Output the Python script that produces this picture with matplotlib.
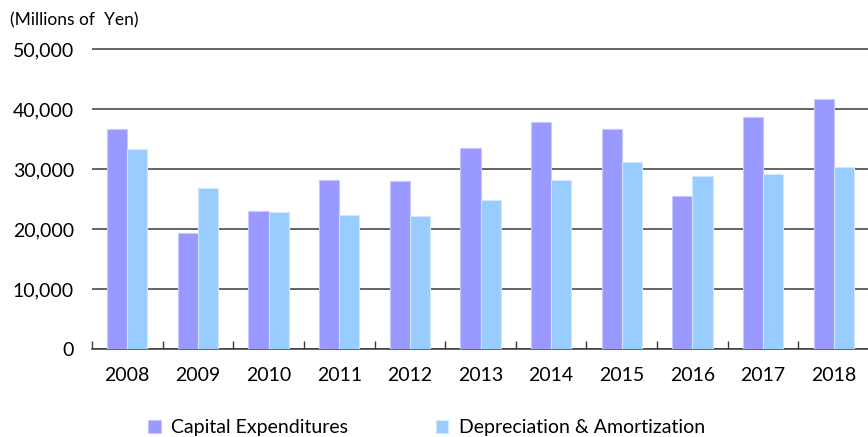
import numpy as np
import matplotlib.pyplot as plt

years = ['2008', '2009', '2010', '2011', '2012', '2013', '2014', '2015', '2016', '2017', '2018']
capex = [36600, 19300, 23000, 28200, 28000, 33500, 37800, 36600, 25500, 38600, 41600]
dep_amort = [33300, 26800, 22800, 22400, 22200, 24800, 28200, 31200, 28800, 29200, 30300]

plt.rcParams['font.family'] = ['Lato', 'DejaVu Sans']

W, H = 868, 437
fig = plt.figure(figsize=(W / 100, H / 100), dpi=100)

# axes placed in pixel terms: left edge 92, baseline 349, 60 px per 10,000
ytop = 51000
top_px = 349 - ytop / 10000 * 60
ax = fig.add_axes([92 / W, 1 - 349 / H, (869 - 92) / W, (349 - top_px) / H])

x = np.arange(len(years))
bw = 0.285
ax.bar(x - bw / 2, capex, bw, color='#9999FF', edgecolor='#C8C8FF', linewidth=0.8,
       label='Capital Expenditures', zorder=3)
ax.bar(x + bw / 2, dep_amort, bw, color='#99CCFF', edgecolor='#D0E8FF', linewidth=0.8,
       label='Depreciation & Amortization', zorder=3)

ax.set_xlim(-0.5, len(years) - 0.5)
ax.set_ylim(0, ytop)
ax.set_yticks(np.arange(0, 50001, 10000))
ax.set_yticklabels(['0'] + [f'{v:,}' for v in range(10000, 50001, 10000)])
ax.yaxis.grid(True, color='#3a3a3a', linewidth=1.1, zorder=1)
ax.tick_params(axis='y', length=0, pad=13, labelsize=14)

ax.set_xticks(x)
ax.set_xticklabels(years)
ax.set_xticks(np.arange(-0.5, len(years)), minor=True)
ax.tick_params(axis='x', which='major', length=0, pad=13, labelsize=14)
ax.tick_params(axis='x', which='minor', direction='in', length=6, color='#3a3a3a', width=1)

for s in ['top', 'right', 'left']:
    ax.spines[s].set_visible(False)
ax.spines['bottom'].set_color('#3a3a3a')
ax.spines['bottom'].set_linewidth(1.1)

fig.text(10 / W, 1 - 20 / H, '(Millions of  Yen)', fontsize=12.5, va='center', ha='left')

fig.legend(loc='center left', bbox_to_anchor=(148 / W, 1 - 428 / H), ncol=2, frameon=False,
           fontsize=14, handlelength=0.65, handleheight=0.65, handletextpad=0.55,
           columnspacing=4.5, borderaxespad=0, borderpad=0)

fig.savefig('out.png', dpi=100)
